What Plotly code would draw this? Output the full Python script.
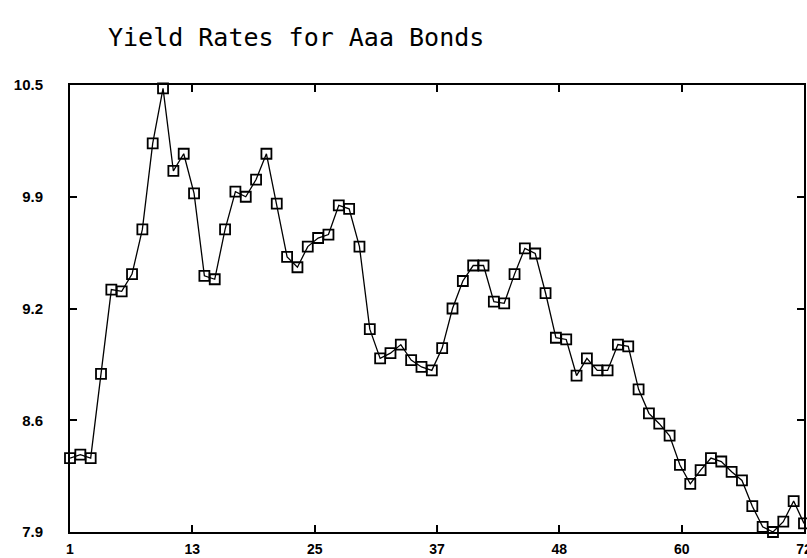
import plotly.graph_objects as go

# Monthly yield rates (percent) for Aaa bonds, periods 1..72
periods = list(range(1, 73))
yields = [
    8.33, 8.35, 8.33, 8.82, 9.31, 9.30, 9.40, 9.66, 10.16, 10.48,
    10.00, 10.10, 9.87, 9.39, 9.37, 9.66, 9.88, 9.85, 9.95, 10.10,
    9.81, 9.50, 9.44, 9.56, 9.61, 9.63, 9.80, 9.78, 9.56, 9.08,
    8.91, 8.94, 8.99, 8.90, 8.86, 8.84, 8.97, 9.20, 9.36, 9.45,
    9.45, 9.24, 9.23, 9.40, 9.55, 9.52, 9.29, 9.03, 9.02, 8.81,
    8.91, 8.84, 8.84, 8.99, 8.98, 8.73, 8.59, 8.53, 8.46, 8.29,
    8.18, 8.26, 8.33, 8.31, 8.25, 8.20, 8.05, 7.93, 7.90, 7.96,
    8.08, 7.95,
]

# Evenly spaced ticks over the axis ranges, labelled with rounded values
x_tickvals = [1 + 71 * k / 6 for k in range(7)]
x_ticktext = ["1", "13", "25", "37", "48", "60", "72"]
y_tickvals = [7.9 + 0.65 * k for k in range(5)]
y_ticktext = ["7.9", "8.6", "9.2", "9.9", "10.5"]

fig = go.Figure()
fig.add_trace(go.Scatter(
    x=periods,
    y=yields,
    mode="lines+markers",
    line=dict(color="black", width=1.3),
    marker=dict(symbol="square-open", size=10, color="black",
                line=dict(color="black", width=1.8)),
    cliponaxis=False,
    showlegend=False,
))

axis_common = dict(
    showline=True, linecolor="black", linewidth=2, mirror="ticks",
    ticks="inside", ticklen=7, tickwidth=2, tickcolor="black",
    showgrid=False, zeroline=False, automargin=False,
    ticklabeloverflow="allow",
)

fig.update_layout(
    width=807, height=558,
    margin=dict(l=70, r=3, t=85, b=26),
    paper_bgcolor="white", plot_bgcolor="white",
    title=dict(
        text="Yield Rates for Aaa Bonds",
        x=108 / 807, xanchor="left", xref="container",
        y=1 - 37 / 558, yanchor="middle", yref="container",
        font=dict(family="DejaVu Sans Mono", size=25, color="black"),
    ),
    xaxis=dict(range=[1, 72], tickvals=x_tickvals, ticktext=x_ticktext,
               ticklabelstandoff=3,
               tickfont=dict(family="Liberation Sans", size=14, color="black",
                             weight="bold"),
               **axis_common),
    yaxis=dict(range=[7.9, 10.5], tickvals=y_tickvals, ticktext=y_ticktext,
               ticklabelstandoff=22,
               tickfont=dict(family="Liberation Sans", size=15, color="black",
                             weight="bold"),
               **axis_common),
)

fig.write_html("out.html")
